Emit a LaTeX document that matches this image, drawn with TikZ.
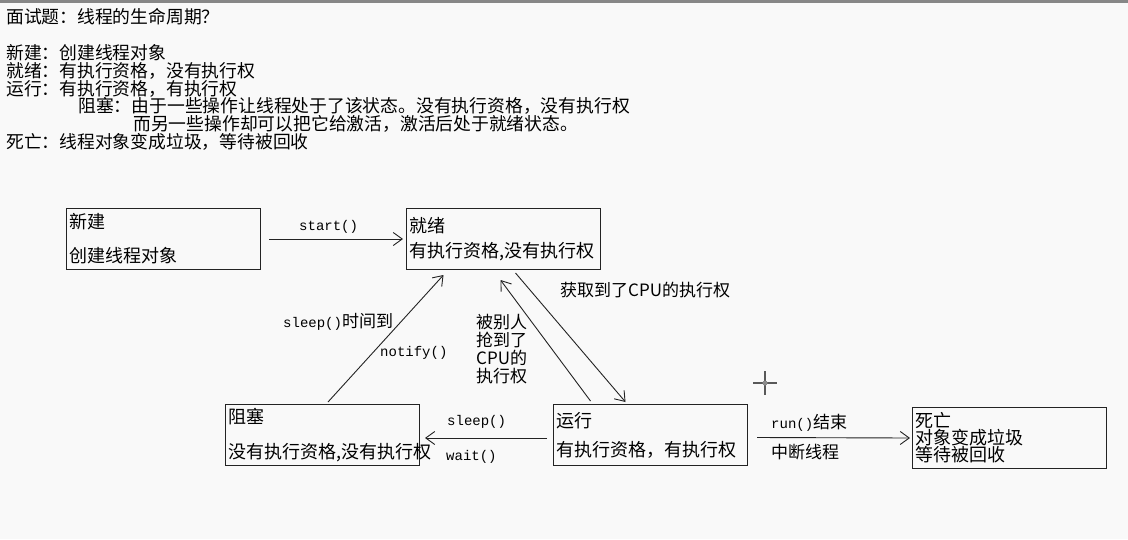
\documentclass[tikz,border=0pt]{standalone}
\usepackage{fontspec}
\setmainfont{Noto Sans CJK SC}
\setmonofont{Liberation Mono}
\usepackage{tikz}
\usetikzlibrary{positioning,arrows.meta,calc}
\definecolor{paper}{RGB}{249,249,249}
\definecolor{ink}{RGB}{35,35,35}
\definecolor{topbar}{RGB}{135,135,135}
\newcommand{\cjklabel}{\fontsize{17}{18}\selectfont\rmfamily}

\begin{document}
\begin{tikzpicture}[x=1pt,y=-1pt,>={Straight Barb[length=9pt,width=13pt]},
    box/.style={draw=ink,line width=1pt,align=left,anchor=north west,font=\fontsize{18}{18}\selectfont,inner xsep=3pt,text width=188pt,minimum height=61pt},
    txt/.style={anchor=west,inner sep=0pt,align=left,font=\fontsize{17}{18}\selectfont},
    note/.style={anchor=west,inner sep=0pt,font=\fontsize{17.8}{18}\selectfont},
    lbl/.style={anchor=west,inner sep=0pt,font=\fontsize{14}{17}\selectfont\ttfamily},
    conn/.style={->,draw=ink,line width=0.9pt}]
    \useasboundingbox (0,0) rectangle (1128,539);
    \fill[paper] (0,0) rectangle (1128,539);
    \fill[topbar] (0,0) rectangle (1128,3);
    % notes at the top
    \node[note] (q) at (6,17) {面试题：线程的生命周期？};
    \node[note] (n1) at (6,53) {新建：创建线程对象};
    \node[note] (n2) at (6,71) {就绪：有执行资格，没有执行权};
    \node[note] (n3) at (6,89) {运行：有执行资格，有执行权};
    \node[note] (n4) at (78,106) {阻塞：由于一些操作让线程处于了该状态。没有执行资格，没有执行权};
    \node[note] (n5) at (133,124) {而另一些操作却可以把它给激活，激活后处于就绪状态。};
    \node[note] (n6) at (6,142) {死亡：线程对象变成垃圾，等待被回收};
    % states
    \node[box] (xinjian) at (66,208) {新建\\[16pt]创建线程对象};
    \node[box] (jiuxu) at (406,208) {就绪\\[7pt]有执行资格,没有执行权};
    \node[box] (zusai) at (225,404) {阻塞\\[17pt]没有执行资格,没有执行权};
    \node[box] (yunxing) at (553,404) {运行\\[11pt]有执行资格，有执行权};
    \node[box,font=\fontsize{18}{17}\selectfont] (siwang) at (912,407) {死亡\\对象变成垃圾\\等待被回收};
    % transitions
    \draw[conn,shorten <=8pt,shorten >=3pt] (xinjian) -- (jiuxu);
    \node[lbl] (lstart) at (299,227) {start()};
    \draw[conn] ([xshift=5.5pt,yshift=2pt]zusai.north) -- ([xshift=-60pt,yshift=-5pt]jiuxu.south);
    \node[lbl] (lsleepto) at (283,322) {sleep()\cjklabel 时间到};
    \node[lbl] (lnotify) at (380,353) {notify()};
    \draw[conn] ([xshift=12pt,yshift=-3pt]jiuxu.south) -- ([xshift=-25pt,yshift=2pt]yunxing.north);
    \node[txt] (lcpu) at (560,290) {获取到了CPU的执行权};
    \draw[conn] ([xshift=-60pt,yshift=3pt]yunxing.north) -- ([xshift=-3pt,yshift=-10pt]jiuxu.south);
    \node[txt] (lrob) at (476,349) {被别人\\抢到了\\CPU的\\执行权};
    \draw[conn] ([xshift=-6pt,yshift=-3pt]yunxing.west) -- ([xshift=5pt,yshift=-3pt]zusai.east);
    \node[lbl] (lsleep) at (447,422) {sleep()};
    \node[lbl] (lwait) at (446,457) {wait()};
    \draw[conn] ([xshift=9pt,yshift=-2.5pt]yunxing.east) -- ([xshift=-2pt]siwang.west);
    \node[lbl] (lrun) at (771,423) {run()\cjklabel 结束};
    \node[txt] (lstop) at (771,452) {中断线程};
    % mouse cursor
    \draw[black!65,line width=1.6pt] (753,383) -- (777,383) (765,371) -- (765,395);
    \fill[black!45] (765,383) circle (2.5);
  \end{tikzpicture}
\end{document}
